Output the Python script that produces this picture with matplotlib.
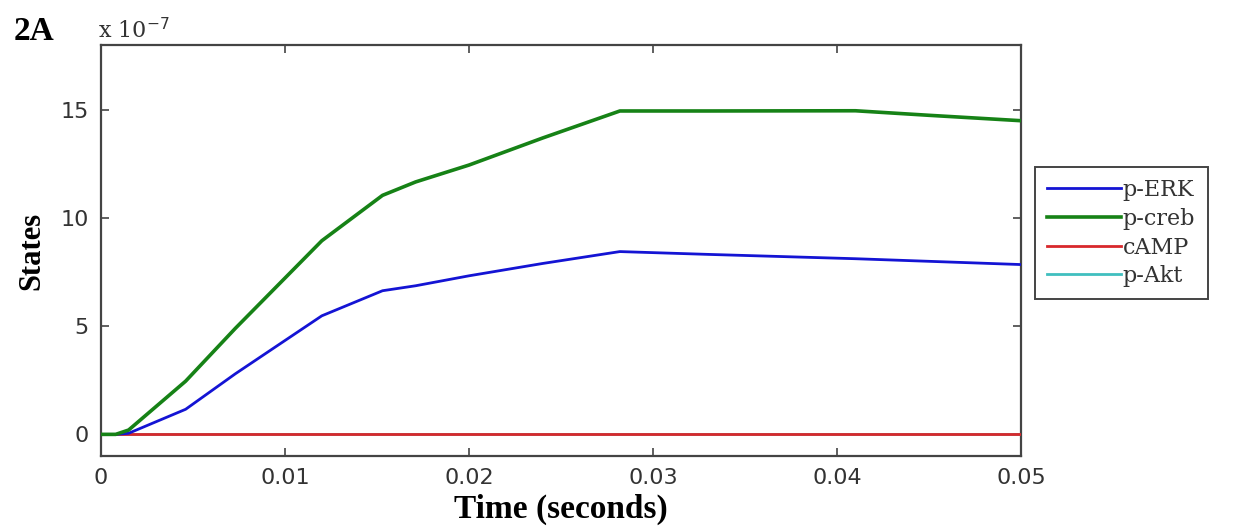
import matplotlib
matplotlib.use("Agg")
import matplotlib.pyplot as plt

# ---- data (values in units of 1e-7) ----
time = [0, 0.0008, 0.0015, 0.0046, 0.0073, 0.0120, 0.0153, 0.0171,
        0.0200, 0.0240, 0.0282, 0.0330, 0.0410, 0.0450, 0.0500]
p_erk = [0, 0, 0.05, 1.16, 2.8, 5.48, 6.64, 6.87,
         7.33, 7.9, 8.45, 8.32, 8.12, 8.0, 7.85]
p_creb = [0, 0, 0.2, 2.46, 4.9, 8.95, 11.05, 11.67,
          12.45, 13.7, 14.95, 14.95, 14.96, 14.75, 14.5]
camp = [0] * len(time)
p_akt = [0] * len(time)

series_names = ["p-ERK", "p-creb", "cAMP", "p-Akt"]
xticks = [0, 0.01, 0.02, 0.03, 0.04, 0.05]
xtick_labels = ["0", "0.01", "0.02", "0.03", "0.04", "0.05"]
yticks = [0, 5, 10, 15]

W, H = 1238, 527
fig = plt.figure(figsize=(W / 100, H / 100), dpi=100)
ax = fig.add_axes([101 / W, 1 - 456 / H, (1021 - 101) / W, (456 - 45) / H])

l1, = ax.plot(time, p_erk, color="#1414d4", lw=2.0, zorder=4)
l2, = ax.plot(time, p_creb, color="#168216", lw=2.6, zorder=5)
l4, = ax.plot(time, p_akt, color="#40bfbf", lw=2.0, zorder=2)
l3, = ax.plot(time, camp, color="#d8282c", lw=2.0, zorder=3)

ax.set_xlim(0, 0.05)
ax.set_ylim(-1, 18)
ax.set_xticks(xticks)
ax.set_xticklabels(xtick_labels)
ax.set_yticks(yticks)
ax.tick_params(direction="in", length=6, width=1.2, top=True, right=True,
               labelsize=16, labelcolor="#333333", color="#444444", pad=9)
for sp in ax.spines.values():
    sp.set_color("#444444")
    sp.set_linewidth(1.6)

ax.set_xlabel("Time (seconds)", fontfamily="Liberation Serif", fontweight="bold",
              fontsize=24, labelpad=4)
ax.set_ylabel("States", fontfamily="Liberation Serif", fontweight="bold",
              fontsize=22, labelpad=10)

fig.text(14 / W, 1 - 40 / H, "2A", fontfamily="Liberation Serif",
         fontweight="bold", fontsize=24)
fig.text(98 / W, 1 - 38 / H, r"x 10$^{-7}$", fontfamily="DejaVu Serif",
         fontsize=16, color="#333333")

leg = ax.legend([l1, l2, l3, l4], series_names, loc="upper left",
                bbox_to_anchor=(1035 / W, 1 - 167 / H), bbox_transform=fig.transFigure,
                borderaxespad=0, fancybox=False, framealpha=1, edgecolor="#444444",
                prop={"family": "DejaVu Serif", "size": 16}, handlelength=3.3,
                handletextpad=0.1, labelspacing=0.3, borderpad=0.55)
leg.get_frame().set_linewidth(1.4)
for t in leg.get_texts():
    t.set_color("#333333")

fig.savefig("out.png", dpi=100)
